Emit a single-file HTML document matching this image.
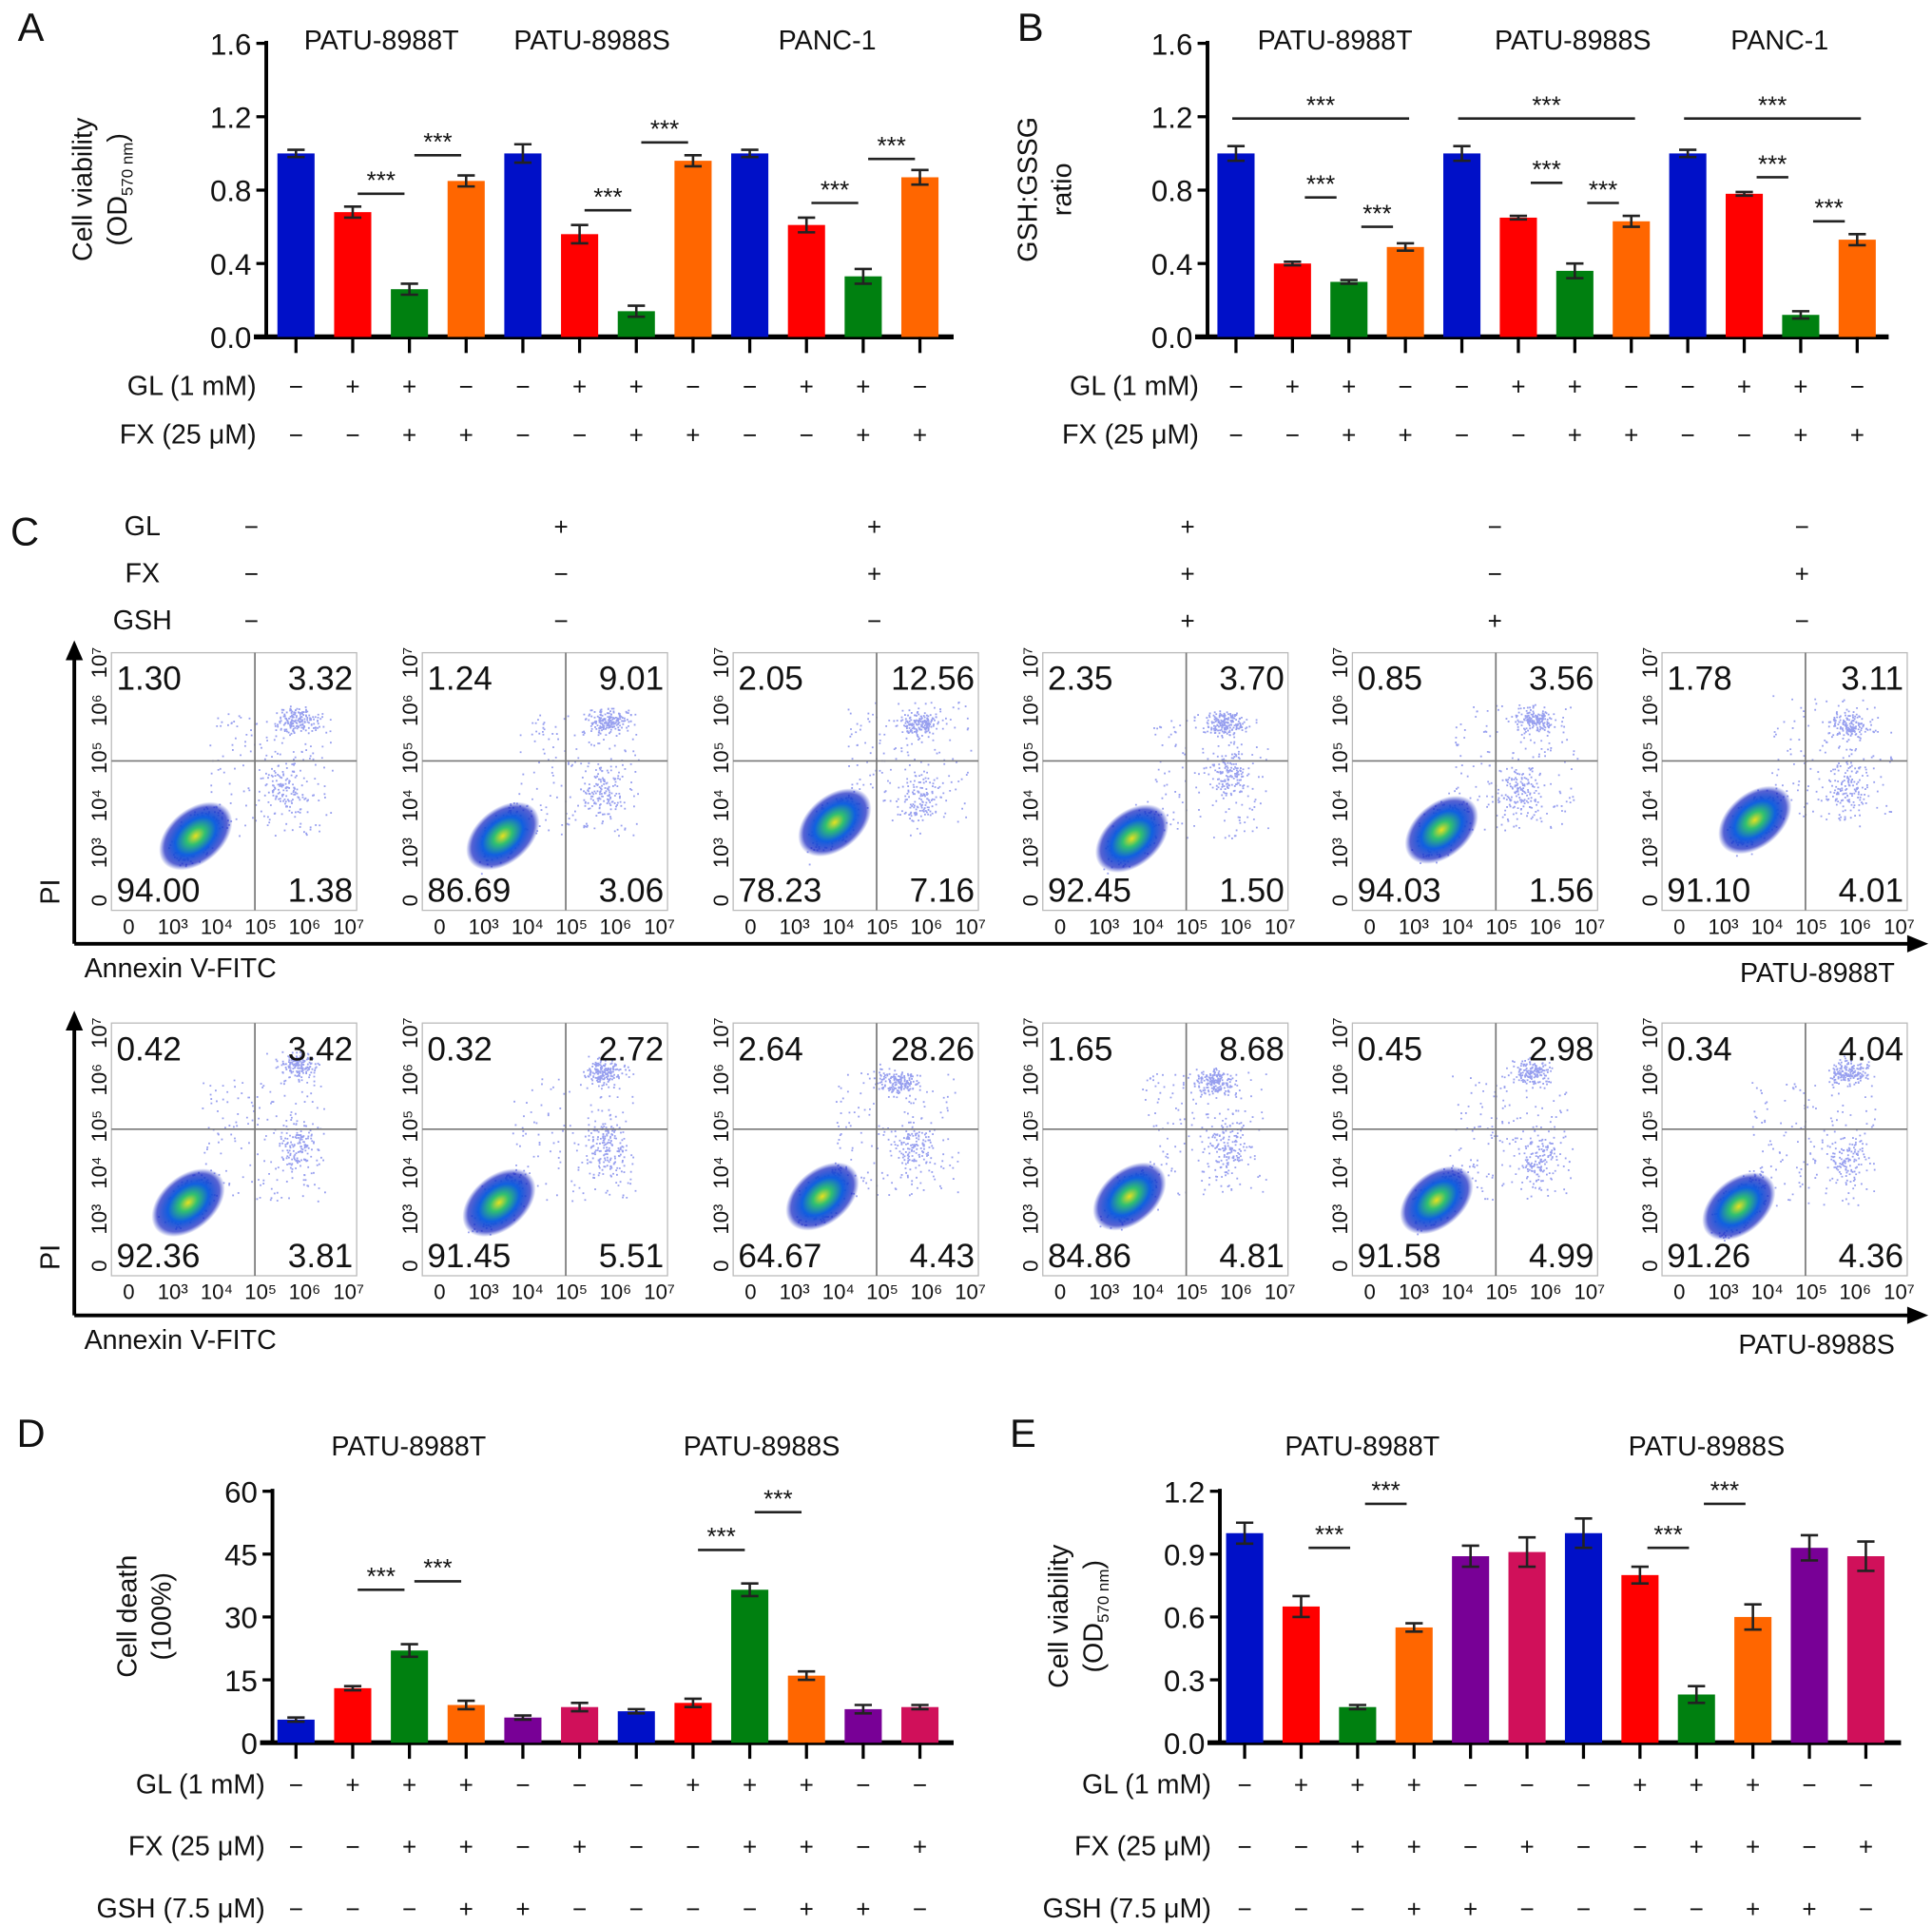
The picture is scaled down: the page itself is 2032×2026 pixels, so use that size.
<!DOCTYPE html>
<html><head><meta charset="utf-8">
<style>
html,body{margin:0;padding:0;background:#fff;}
svg{display:block;font-family:"Liberation Sans",Arial,sans-serif;}
</style></head>
<body>
<svg id="fig" width="2032" height="2026" viewBox="0 0 1560 1555" preserveAspectRatio="none" xmlns="http://www.w3.org/2000/svg">
<defs>
<radialGradient id="blob" cx="50%" cy="50%" r="50%">
<stop offset="0" stop-color="#e8e020"/>
<stop offset="0.25" stop-color="#30c070"/>
<stop offset="0.55" stop-color="#1060e0"/>
<stop offset="0.85" stop-color="#1020c0" stop-opacity="0.7"/>
<stop offset="1" stop-color="#1020c0" stop-opacity="0"/>
</radialGradient>
</defs>
</svg>
<script>
// ---------- data ----------
const aValues=[1.0,0.68,0.26,0.85,1.0,0.56,0.14,0.96,1.0,0.61,0.33,0.87];
const aErrors=[0.02,0.03,0.03,0.03,0.05,0.05,0.03,0.03,0.02,0.04,0.04,0.04];
const bValues=[1.0,0.40,0.30,0.49,1.0,0.65,0.36,0.63,1.0,0.78,0.12,0.53];
const bErrors=[0.04,0.01,0.01,0.02,0.04,0.01,0.04,0.03,0.02,0.01,0.02,0.03];
const abTicks=[0,0.4,0.8,1.2,1.6];
const abColors=["#0010c8","#ff0000","#008010","#ff6600"];
const abGroups=["PATU-8988T","PATU-8988S","PANC-1"];
const abGL=["−","+","+","−","−","+","+","−","−","+","+","−"];
const abFX=["−","−","+","+","−","−","+","+","−","−","+","+"];
const dValues=[5.5,13,22,9,6,8.5,7.5,9.5,36.5,16,8,8.5];
const dErrors=[0.5,0.5,1.5,1,0.5,1,0.5,1,1.5,1,1,0.5];
const dTicks=[0,15,30,45,60];
const eValues=[1.0,0.65,0.17,0.55,0.89,0.91,1.0,0.80,0.23,0.60,0.93,0.89];
const eErrors=[0.05,0.05,0.01,0.02,0.05,0.07,0.07,0.04,0.04,0.06,0.06,0.07];
const eTicks=[0,0.3,0.6,0.9,1.2];
const deColors=["#0010c8","#ff0000","#008010","#ff6600","#780096","#d0105a"];
const deGroups=["PATU-8988T","PATU-8988S"];
const deGL=["−","+","+","+","−","−","−","+","+","+","−","−"];
const deFX=["−","−","+","+","−","+","−","−","+","+","−","+"];
const deGSH=["−","−","−","+","+","−","−","−","−","+","+","−"];
const cGL=["−","+","+","+","−","−"];
const cFX=["−","−","+","+","−","+"];
const cGSH=["−","−","−","+","+","−"];
const flowT=[[1.30,3.32,94.00,1.38],[1.24,9.01,86.69,3.06],[2.05,12.56,78.23,7.16],[2.35,3.70,92.45,1.50],[0.85,3.56,94.03,1.56],[1.78,3.11,91.10,4.01]];
const flowS=[[0.42,3.42,92.36,3.81],[0.32,2.72,91.45,5.51],[2.64,28.26,64.67,4.43],[1.65,8.68,84.86,4.81],[0.45,2.98,91.58,4.99],[0.34,4.04,91.26,4.36]];

// ---------- helpers ----------
const svg=document.getElementById('fig');
const NS="http://www.w3.org/2000/svg";
function mk(tag,attrs,parent,name){
  const e=document.createElementNS(NS,tag);
  for(const k in attrs)e.setAttribute(k,attrs[k]);
  
  
  (parent||svg).appendChild(e);return e;
}
function txt(x,y,s,size,anchor,parent,name,extra){
  const a={x:x,y:y,'font-size':size,'text-anchor':anchor||'middle',fill:'#111'};
  if(extra)for(const k in extra)a[k]=extra[k];
  const t=mk('text',a,parent,name);t.textContent=s;return t;
}
function grp(name){const g=document.createElementNS(NS,'g');svg.appendChild(g);return g;}

function barChart(cfg){
  const g=grp(cfg.name);
  const y=v=>cfg.y0-(v-cfg.tmin)/(cfg.tmax-cfg.tmin)*(cfg.y0-cfg.y1);
  const x=i=>cfg.x0+cfg.step*i;
  mk('line',{x1:cfg.ax,y1:cfg.y1-2,x2:cfg.ax,y2:cfg.y0+1.5,stroke:'#000','stroke-width':3},g,'y-axis');
  mk('line',{x1:cfg.ax-10,y1:cfg.y0,x2:cfg.axEnd,y2:cfg.y0,stroke:'#000','stroke-width':4},g,'x-axis');
  cfg.ticks.forEach((t,i)=>{
    mk('line',{x1:cfg.ax-8,y1:y(t),x2:cfg.ax,y2:y(t),stroke:'#000','stroke-width':2.5},g,'y-tick');
    txt(cfg.ax-12,y(t)+9,cfg.tickFmt(t),24,'end',g,'y-tick-label');
  });
  cfg.values.forEach((v,i)=>{
    const cx=x(i),w=cfg.bw;
    mk('rect',{x:cx-w/2,y:y(v),width:w,height:cfg.y0-y(v),fill:cfg.colors[i%cfg.colors.length]},g,'bar-'+(i+1));
    const e=cfg.errors[i];
    mk('path',{d:`M${cx},${y(v+e)}V${y(v-e)}M${cx-7},${y(v+e)}H${cx+7}M${cx-7},${y(v-e)}H${cx+7}`,stroke:'#222','stroke-width':2,fill:'none'},g,'error-bar');
    mk('line',{x1:cx,y1:cfg.y0,x2:cx,y2:cfg.y0+13,stroke:'#000','stroke-width':2.5},g,'x-tick');
  });
  cfg.groups.forEach((s,i)=>txt(cfg.gx[i],cfg.gy,s,22,'middle',g,'group-title'));
  cfg.rows.forEach((r,ri)=>{
    txt(cfg.labelX,r.y+8,r.label,22,'end',g,'row-label');
    r.syms.forEach((s,i)=>txt(x(i),r.y+8,s,20,'middle',g,'row-symbol'));
  });
  cfg.sig.forEach(s=>{
    const x1=x(s[0])-s[3],x2=x(s[1])+s[3],yy=y(s[2]);
    mk('line',{x1:x1,y1:yy,x2:x2,y2:yy,stroke:'#222','stroke-width':2},g,'significance-line');
    txt((x1+x2)/2,yy-4,'***',20,'middle',g,'significance-stars');
  });
  const yt=mk('text',{transform:`translate(${cfg.ytx},${cfg.yty}) rotate(-90)`,'font-size':22,'text-anchor':'middle',fill:'#111'},g,'y-axis-title');
  yt.innerHTML=cfg.ytitle;
}

barChart({name:'panel-a-chart',values:aValues,errors:aErrors,ticks:abTicks,tmin:0,tmax:1.6,y0:272,y1:35,ax:215,axEnd:770,x0:239,step:45.8,bw:30,colors:abColors,
 tickFmt:t=>t.toFixed(1),groups:abGroups,gx:[308,478,668],gy:40,labelX:207,
 rows:[{label:'GL (1 mM)',y:311,syms:abGL},{label:'FX (25 μM)',y:350,syms:abFX}],
 sig:[[1,2,0.78,-4],[2,3,0.99,-4],[5,6,0.69,-4],[6,7,1.06,-4],[9,10,0.73,-4],[10,11,0.97,-4]],
 ytx:82,yty:153,ytitle:'<tspan x="0" dy="-8">Cell viability</tspan><tspan x="0" dy="28">(OD</tspan><tspan font-size="13" dy="5">570 nm</tspan><tspan dy="-5">)</tspan>'});
barChart({name:'panel-b-chart',values:bValues,errors:bErrors,ticks:abTicks,tmin:0,tmax:1.6,y0:272,y1:35,ax:975,axEnd:1525,x0:998,step:45.6,bw:30,colors:abColors,
 tickFmt:t=>t.toFixed(1),groups:abGroups,gx:[1078,1270,1437],gy:40,labelX:968,
 rows:[{label:'GL (1 mM)',y:311,syms:abGL},{label:'FX (25 μM)',y:350,syms:abFX}],
 sig:[[0,3,1.19,3],[1,2,0.76,-10],[2,3,0.6,-10],[4,7,1.19,3],[5,6,0.84,-10],[6,7,0.73,-10],[8,11,1.19,3],[9,10,0.87,-10],[10,11,0.63,-10]],
 ytx:845,yty:153,ytitle:'<tspan x="0" dy="-8">GSH:GSSG</tspan><tspan x="0" dy="28">ratio</tspan>'});
barChart({name:'panel-d-chart',values:dValues,errors:dErrors,ticks:dTicks,tmin:0,tmax:60,y0:1407,y1:1204,ax:220,axEnd:770,x0:239,step:45.8,bw:30,colors:deColors,
 tickFmt:t=>String(t),groups:deGroups,gx:[330,615],gy:1175,labelX:214,
 rows:[{label:'GL (1 mM)',y:1440,syms:deGL},{label:'FX (25 μM)',y:1490,syms:deFX},{label:'GSH (7.5 μM)',y:1540,syms:deGSH}],
 sig:[[1,2,36.5,-4],[2,3,38.5,-4],[7,8,46,-4],[8,9,55,-4]],
 ytx:118,yty:1305,ytitle:'<tspan x="0" dy="-8">Cell death</tspan><tspan x="0" dy="28">(100%)</tspan>'});
barChart({name:'panel-e-chart',values:eValues,errors:eErrors,ticks:eTicks,tmin:0,tmax:1.2,y0:1407,y1:1204,ax:985,axEnd:1535,x0:1005,step:45.6,bw:30,colors:deColors,
 tickFmt:t=>t.toFixed(1),groups:deGroups,gx:[1100,1378],gy:1175,labelX:978,
 rows:[{label:'GL (1 mM)',y:1440,syms:deGL},{label:'FX (25 μM)',y:1490,syms:deFX},{label:'GSH (7.5 μM)',y:1540,syms:deGSH}],
 sig:[[1,2,0.93,-6],[2,3,1.14,-6],[7,8,0.93,-6],[8,9,1.14,-6]],
 ytx:870,yty:1305,ytitle:'<tspan x="0" dy="-8">Cell viability</tspan><tspan x="0" dy="28">(OD</tspan><tspan font-size="13" dy="5">570 nm</tspan><tspan dy="-5">)</tspan>'});

[['A',25,33],['B',832,33],['C',20,440],['D',25,1168],['E',826,1168]].forEach(l=>txt(l[1],l[2],l[0],32,'middle',svg,'panel-letter-'+l[0].toLowerCase()));

const cg=grp('panel-c-conditions');
const cx=[203,453,706,959,1207,1455];
[['GL',424,cGL],['FX',462,cFX],['GSH',500,cGSH]].forEach(r=>{
  txt(115,r[1]+8,r[0],22,'middle',cg,'condition-label');
  r[2].forEach((s,i)=>txt(cx[i],r[1]+8,s,20,'middle',cg,'condition-symbol'));
});

let seed=7;function rnd(){seed=(seed*16807)%2147483647;return seed/2147483647;}
function gauss(){return (rnd()+rnd()+rnd()+rnd()-2)/1.15;}

const boxX=[90,341,592,842,1092,1342];
function flowRow(rowName,vals,top,bot,arrowY,lineName,cellLine,clusters){
  const g=grp(rowName);
  const w=198,h=bot-top;
  vals.forEach((q,i)=>{
    const bx=boxX[i];
    const pg=grp(rowName+'-plot-'+(i+1));
    mk('rect',{x:bx,y:top,width:w,height:h,fill:'#fff',stroke:'#bbb','stroke-width':1},pg,'plot-frame');
    const vx=bx+w*0.585,hy=top+h*0.42;
    const cl=clusters[i];
    let d='';
    for(let k=0;k<900;k++){const r=rnd();let px,py;
      if(r<0.5){px=cl[0]+gauss()*16;py=cl[1]+gauss()*16-(px-cl[0])*0.6;}
      else if(r<0.68){px=cl[2]+gauss()*16;py=cl[3]+gauss()*10;}
      else if(r<0.86){px=cl[0]+10+rnd()*100;py=cl[1]-rnd()*100;}
      else {px=cl[4]+gauss()*16;py=cl[5]+gauss()*22;}
      px=Math.max(2,Math.min(w-2,px));py=Math.max(2,Math.min(h-2,py));
      d+=`M${(bx+px).toFixed(1)},${(top+py).toFixed(1)}h1.4`;}
    mk('path',{d:d,stroke:'#3040e0','stroke-width':1.4,'stroke-opacity':0.5,fill:'none'},pg,'scatter-dots');
    mk('ellipse',{cx:bx+cl[0],cy:top+cl[1],rx:34,ry:22,transform:`rotate(-40 ${bx+cl[0]} ${top+cl[1]})`,fill:'url(#blob)'},pg,'density-core');
    mk('line',{x1:vx,y1:top,x2:vx,y2:bot,stroke:'#777','stroke-width':1.3},pg,'quadrant-vline');
    mk('line',{x1:bx,y1:hy,x2:bx+w,y2:hy,stroke:'#777','stroke-width':1.3},pg,'quadrant-hline');
    txt(bx+4,top+30,q[0].toFixed(2),27,'start',pg,'q1-value');
    txt(bx+w-3,top+30,q[1].toFixed(2),27,'end',pg,'q2-value');
    txt(bx+4,bot-7,q[2].toFixed(2),27,'start',pg,'q3-value');
    txt(bx+w-3,bot-7,q[3].toFixed(2),27,'end',pg,'q4-value');
    const lab=['0','10³','10⁴','10⁵','10⁶','10⁷'];
    lab.forEach((s,k)=>{
      txt(bx+14+k*35.5,bot+19,s,17,'middle',pg,'x-tick-label');
      const yy=bot-8-k*(h-16)/5;
      txt(0,0,s,17,'middle',pg,'y-tick-label',{transform:`translate(${bx-4},${yy}) rotate(-90)`});
    });
  });
  mk('path',{d:`M60,${arrowY}V${top-2}`,stroke:'#000','stroke-width':3},g,'y-axis-arrow');
  mk('path',{d:`M53,${top+6}L60,${top-10}L67,${top+6}Z`,fill:'#000'},g,'y-arrowhead');
  mk('path',{d:`M60,${arrowY}H1545`,stroke:'#000','stroke-width':3},g,'x-axis-arrow');
  mk('path',{d:`M1540,${arrowY-7}L1557,${arrowY}L1540,${arrowY+7}Z`,fill:'#000'},g,'x-arrowhead');
  txt(0,0,'PI',22,'middle',g,'pi-axis-title',{transform:`translate(48,${bot-15}) rotate(-90)`});
  txt(68,arrowY+27,'Annexin V-FITC',22,'start',g,'annexin-axis-title');
  txt(1530,arrowY+31,cellLine,22,'end',g,'cell-line-label');
}
const clT=[[68,148,150,55,140,110],[65,148,150,55,145,115],[82,137,150,58,150,120],[72,150,146,58,150,100],[72,143,147,55,135,115],[75,135,150,60,150,110]];
const clS=[[62,145,150,35,150,100],[62,145,145,40,150,100],[72,140,132,48,145,100],[70,140,138,48,150,100],[68,143,145,40,150,110],[62,148,150,40,150,110]];
flowRow('flow-row-patu-8988t',flowT,527,735,762,'','PATU-8988T',clT);
flowRow('flow-row-patu-8988s',flowS,826,1030,1062,'','PATU-8988S',clS);
</script>
</body></html>
